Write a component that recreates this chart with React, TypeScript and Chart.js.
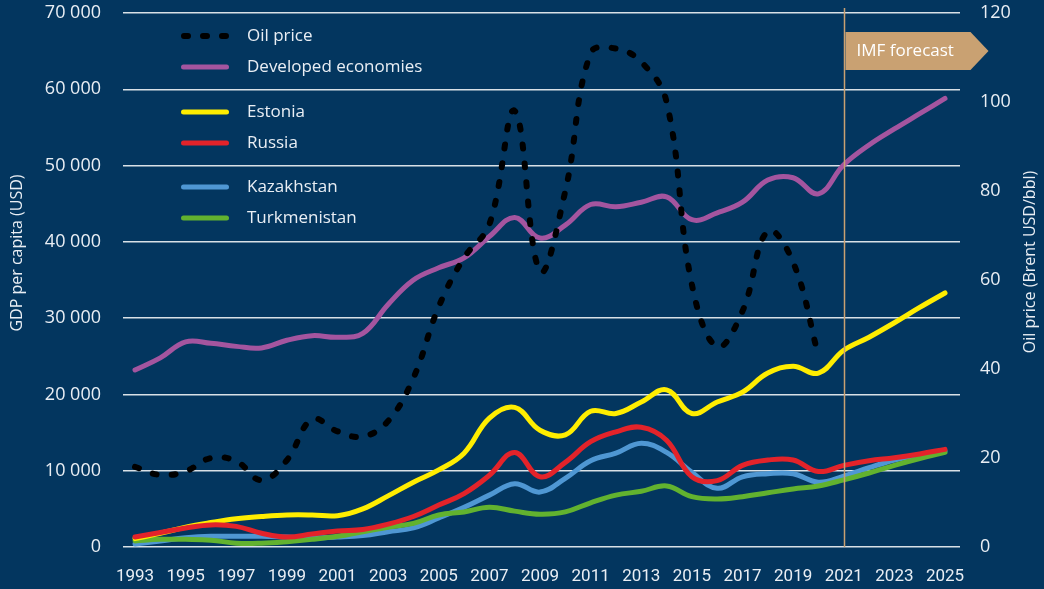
import React, { useEffect, useRef } from 'react';
import { Chart, registerables } from 'chart.js';

Chart.register(...registerables);

const years = [
  1993, 1994, 1995, 1996, 1997, 1998, 1999, 2000, 2001, 2002, 2003,
  2004, 2005, 2006, 2007, 2008, 2009, 2010, 2011, 2012, 2013, 2014,
  2015, 2016, 2017, 2018, 2019, 2020, 2021, 2022, 2023, 2024, 2025,
];

const oilYears = [
  1993, 1994, 1995, 1996, 1997, 1998, 1999, 2000, 2001, 2002, 2003, 2004, 2005, 2006,
  2007, 2008, 2009, 2010, 2011, 2012, 2013, 2014, 2015, 2016, 2017, 2018, 2019, 2020,
];

const oilPrice = [
  18, 16.2, 17, 20, 19.3, 15, 19.5, 28.7, 26, 24.8, 28.3, 38, 54, 65,
  72.5, 98, 62, 80, 111, 112, 109, 100, 59, 45, 53, 71, 64, 43,
];

const developed = [
  23200, 24800, 26900, 26700, 26300, 26100, 27100, 27700, 27500, 28000, 31800,
  35000, 36600, 37900, 40700, 43200, 40500, 42200, 44900, 44600, 45200, 45900,
  42900, 43800, 45200, 48100, 48400, 46300, 50100, 52700, 54800, 56800, 58800,
];

const estonia = [
  1100, 1800, 2600, 3200, 3700, 4000, 4200, 4200, 4100, 5000, 6700,
  8500, 10100, 12300, 16900, 18300, 15300, 14700, 17800, 17500, 19000, 20600,
  17500, 19000, 20300, 22800, 23700, 22800, 25800, 27500, 29400, 31400, 33300,
];

const russia = [
  1300, 1900, 2500, 2900, 2700, 1800, 1300, 1700, 2100, 2300, 3000,
  4000, 5500, 7000, 9400, 12400, 9200, 11100, 13800, 15100, 15700, 14000,
  9200, 8700, 10700, 11400, 11400, 9900, 10700, 11300, 11700, 12200, 12800,
];

const kazakhstan = [
  400, 800, 1200, 1400, 1400, 1400, 1300, 1200, 1300, 1500, 2000,
  2500, 3800, 5200, 6800, 8300, 7200, 9000, 11300, 12300, 13600, 12400,
  9800, 7700, 9200, 9600, 9600, 8500, 9300, 10400, 11400, 12100, 12600,
];

const turkmenistan = [
  800, 1000, 1000, 900, 500, 500, 700, 1000, 1400, 2000, 2600,
  3100, 4200, 4600, 5200, 4700, 4300, 4600, 5800, 6800, 7300, 8000,
  6600, 6300, 6600, 7100, 7600, 8000, 8800, 9700, 10700, 11600, 12400,
];

const xTickYears = [
  1993, 1995, 1997, 1999, 2001, 2003, 2005, 2007, 2009, 2011, 2013, 2015, 2017, 2019, 2021, 2023, 2025,
];
const gdpTicks = [0, 10000, 20000, 30000, 40000, 50000, 60000, 70000];
const oilTicks = [0, 20, 40, 60, 80, 100, 120];
const forecastStartYear = 2021;
const forecastLabel = 'IMF forecast';
const leftTitle = 'GDP per capita (USD)';
const rightTitle = 'Oil price (Brent USD/bbl)';

const BG = '#03365f';
const TEXT = '#e9eef4';
const FONT = "'Open Sans', 'DejaVu Sans', sans-serif";
const TAN = '#c9a172';

const COLORS = {
  oil: '#000000',
  developed: '#a4559f',
  estonia: '#ffed00',
  russia: '#e3232a',
  kazakhstan: '#4f97d3',
  turkmenistan: '#62b22f',
};

const legendItems = [
  { label: 'Oil price', color: COLORS.oil, dashed: true, y: 36 },
  { label: 'Developed economies', color: COLORS.developed, dashed: false, y: 67 },
  { label: 'Estonia', color: COLORS.estonia, dashed: false, y: 112 },
  { label: 'Russia', color: COLORS.russia, dashed: false, y: 143 },
  { label: 'Kazakhstan', color: COLORS.kazakhstan, dashed: false, y: 187 },
  { label: 'Turkmenistan', color: COLORS.turkmenistan, dashed: false, y: 218 },
];

const pts = (xs: number[], ys: number[]) => xs.map((x, i) => ({ x, y: ys[i] }));

const formatGdp = (v: number) => (v === 0 ? '0' : `${v / 1000} 000`);

export default function App() {
  const ref = useRef<HTMLCanvasElement | null>(null);

  useEffect(() => {
    const canvas = ref.current;
    if (!canvas) return;

    const bgPlugin = {
      id: 'bg',
      beforeDraw(chart: any) {
        const ctx = chart.ctx;
        ctx.save();
        ctx.fillStyle = BG;
        ctx.fillRect(0, 0, chart.width, chart.height);
        ctx.restore();
      },
    };

    const overlayPlugin = {
      id: 'overlay',
      afterDatasetsDraw(chart: any) {
        const ctx = chart.ctx;
        const xs = chart.scales.x;
        const area = chart.chartArea;
        const fx = Math.round(xs.getPixelForValue(forecastStartYear)) + 0.5;
        ctx.save();
        ctx.strokeStyle = TAN;
        ctx.lineWidth = 1.5;
        ctx.beginPath();
        ctx.moveTo(fx, 8);
        ctx.lineTo(fx, area.bottom);
        ctx.stroke();

        ctx.fillStyle = TAN;
        ctx.beginPath();
        ctx.moveTo(fx + 1, 32);
        ctx.lineTo(fx + 126, 32);
        ctx.lineTo(fx + 144, 51);
        ctx.lineTo(fx + 126, 70);
        ctx.lineTo(fx + 1, 70);
        ctx.closePath();
        ctx.fill();
        ctx.fillStyle = '#ffffff';
        ctx.font = `17px ${FONT}`;
        ctx.textAlign = 'left';
        ctx.textBaseline = 'middle';
        ctx.fillText(forecastLabel, fx + 12, 51);
        ctx.restore();
      },
      afterDraw(chart: any) {
        const ctx = chart.ctx;
        ctx.save();
        legendItems.forEach((it) => {
          ctx.strokeStyle = it.color;
          ctx.lineCap = 'round';
          if (it.dashed) {
            ctx.lineWidth = 6;
            ctx.setLineDash([4, 15]);
            ctx.beginPath();
            ctx.moveTo(184, it.y);
            ctx.lineTo(227, it.y);
            ctx.stroke();
            ctx.setLineDash([]);
          } else {
            ctx.lineWidth = 5;
            ctx.beginPath();
            ctx.moveTo(183.5, it.y);
            ctx.lineTo(226.5, it.y);
            ctx.stroke();
          }
          ctx.fillStyle = TEXT;
          ctx.font = `17px ${FONT}`;
          ctx.textAlign = 'left';
          ctx.textBaseline = 'middle';
          ctx.fillText(it.label, 247, it.y);
        });

        ctx.fillStyle = TEXT;
        ctx.font = `16px ${FONT}`;
        ctx.textAlign = 'center';
        ctx.textBaseline = 'middle';
        ctx.save();
        ctx.translate(17, 253);
        ctx.rotate(-Math.PI / 2);
        ctx.fillText(leftTitle, 0, 0);
        ctx.restore();
        ctx.save();
        ctx.translate(1030, 262);
        ctx.rotate(-Math.PI / 2);
        ctx.fillText(rightTitle, 0, 0);
        ctx.restore();
        ctx.restore();
      },
    };

    const lineDs = (label: string, data: any[], color: string, extra: any = {}) => ({
      label,
      data,
      borderColor: color,
      backgroundColor: color,
      borderWidth: 5,
      pointRadius: 0,
      tension: 0.4,
      fill: false,
      borderCapStyle: 'round',
      borderJoinStyle: 'round',
      yAxisID: 'y',
      ...extra,
    });

    const zeroVPad = (s: any) => {
      s.paddingTop = 0;
      s.paddingBottom = 0;
    };

    const chart = new Chart(canvas, {
      type: 'line',
      data: {
        datasets: [
          lineDs('Oil price', pts(oilYears, oilPrice), COLORS.oil, {
            yAxisID: 'y1',
            borderWidth: 6,
            borderDash: [4, 15],
          }),
          lineDs('Russia', pts(years, russia), COLORS.russia),
          lineDs('Estonia', pts(years, estonia), COLORS.estonia),
          lineDs('Turkmenistan', pts(years, turkmenistan), COLORS.turkmenistan),
          lineDs('Kazakhstan', pts(years, kazakhstan), COLORS.kazakhstan),
          lineDs('Developed economies', pts(years, developed), COLORS.developed),
        ] as any,
      },
      options: {
        animation: false,
        responsive: false,
        maintainAspectRatio: false,
        layout: { padding: { top: 13, left: 0, right: 0, bottom: 0 } },
        plugins: {
          legend: { display: false },
          tooltip: { enabled: false },
        },
        scales: {
          x: {
            type: 'linear',
            min: 1993 - 12 / 25.3125,
            max: 2025 + 15 / 25.3125,
            grid: { display: false, drawTicks: false },
            border: { display: false },
            afterBuildTicks: (s: any) => {
              s.ticks = xTickYears.map((v) => ({ value: v }));
            },
            afterFit: (s: any) => {
              s.height = 42;
              s.paddingLeft = 0;
              s.paddingRight = 0;
            },
            ticks: {
              autoSkip: false,
              maxRotation: 0,
              minRotation: 0,
              padding: 20,
              color: TEXT,
              font: { family: "Roboto, 'Open Sans', sans-serif", size: 17 },
              callback: (v: any) => String(v),
            },
          },
          y: {
            position: 'left',
            min: 0,
            max: 70000,
            afterBuildTicks: (s: any) => {
              s.ticks = gdpTicks.map((v) => ({ value: v }));
            },
            afterFit: (s: any) => {
              s.width = 123;
              zeroVPad(s);
            },
            grid: { color: 'rgba(255,255,255,0.85)', lineWidth: 1.5, drawTicks: false },
            border: { display: false },
            ticks: {
              padding: 22,
              color: TEXT,
              font: { family: FONT, size: 18 },
              callback: (v: any) => formatGdp(Number(v)),
            },
          },
          y1: {
            position: 'right',
            min: 0,
            max: 120,
            afterBuildTicks: (s: any) => {
              s.ticks = oilTicks.map((v) => ({ value: v }));
            },
            afterFit: (s: any) => {
              s.width = 84;
              zeroVPad(s);
            },
            grid: { display: false, drawTicks: false },
            border: { display: false },
            ticks: {
              padding: 20,
              color: TEXT,
              font: { family: FONT, size: 18 },
              callback: (v: any) => String(v),
            },
          },
        },
      } as any,
      plugins: [bgPlugin, overlayPlugin],
    });

    return () => chart.destroy();
  }, []);

  return (
    <div style={{ position: 'fixed', left: 0, top: 0, width: 1044, height: 589, background: BG }}>
      <canvas ref={ref} width={1044} height={589} style={{ display: 'block', width: 1044, height: 589 }} />
    </div>
  );
}
